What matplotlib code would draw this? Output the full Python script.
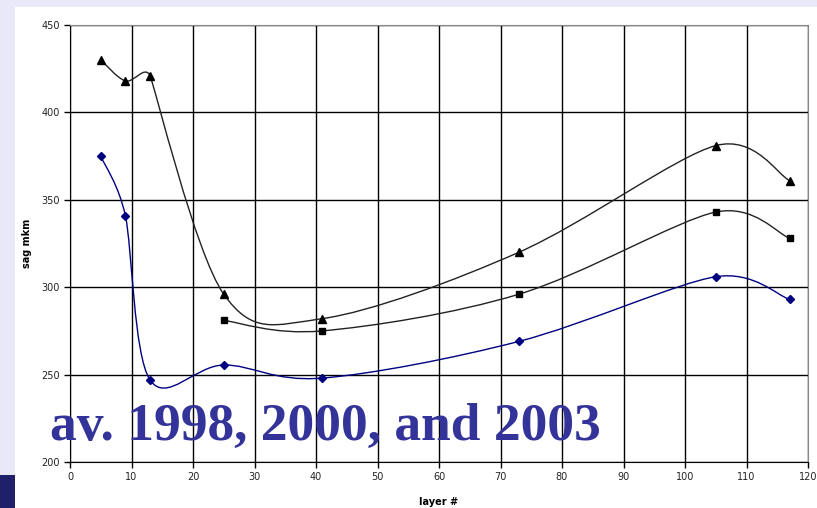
import matplotlib
matplotlib.use("Agg")
import matplotlib.pyplot as plt
from matplotlib.path import Path
from matplotlib.patches import PathPatch, Rectangle
import numpy as np

# data
x_tri = [5, 9, 13, 25, 41, 73, 105, 117]
y_tri = [430, 418, 421, 296, 282, 320, 381, 361]
x_sq = [25, 41, 73, 105, 117]
y_sq = [281, 275, 296, 343, 328]
x_dia = [5, 9, 13, 25, 41, 73, 105, 117]
y_dia = [375, 341, 247, 255.5, 248, 269, 306, 293]
x_ticks = list(range(0, 121, 10))
y_ticks = list(range(200, 451, 50))
overlay_text = "av. 1998, 2000, and 2003"


def smooth_path(ax, xs, ys):
    # Excel-like smoothing: Catmull-Rom Bezier with clamped control arms (display space)
    pts = ax.transData.transform(np.column_stack([xs, ys]).astype(float))
    n = len(pts)

    def arm(pa, pb, pc):
        # control offset at pb, direction (pc - pa)
        d = pc - pa
        L = np.hypot(*d)
        if L == 0:
            return np.zeros(2)
        m = min(np.hypot(*(pb - pa)) if np.hypot(*(pb - pa)) > 0 else np.inf,
                np.hypot(*(pc - pb)) if np.hypot(*(pc - pb)) > 0 else np.inf)
        f = 1.0 / 6.0
        if L * f > m / 2:
            f = (m / 2) / L
        return d * f

    verts = [pts[0]]
    codes = [Path.MOVETO]
    for i in range(n - 1):
        p0 = pts[i - 1] if i > 0 else pts[i]
        p1 = pts[i]
        p2 = pts[i + 1]
        p3 = pts[i + 2] if i + 2 < n else pts[i + 1]
        c1 = p1 + arm(p0, p1, p2)
        c2 = p2 - arm(p1, p2, p3)
        verts += [c1, c2, p2]
        codes += [Path.CURVE4] * 3
    verts = ax.transData.inverted().transform(np.array(verts))
    return Path(verts, codes)


fig = plt.figure(figsize=(8.17, 5.08), dpi=100, facecolor="#e8e8f8")
fig.patches.append(Rectangle((15 / 817, 0), 1, 1 - 7 / 508, transform=fig.transFigure,
                             facecolor="white", edgecolor="none", zorder=-10))
fig.patches.append(Rectangle((0, 0), 15 / 817, 33 / 508, transform=fig.transFigure,
                             facecolor="#20206a", edgecolor="none", zorder=-9))

ax = fig.add_axes([70 / 817, 1 - 462 / 508, 738 / 817, 437 / 508])
ax.set_zorder(5)
ax.set_facecolor("white")
ax.set_xlim(0, 120)
ax.set_ylim(200, 450)
ax.set_xticks(x_ticks)
ax.set_yticks(y_ticks)
ax.grid(True, color="black", linewidth=1.0)
ax.set_axisbelow(True)
for s in ["top", "right"]:
    ax.spines[s].set_color("#888888")
for s in ["left", "bottom"]:
    ax.spines[s].set_color("black")
ax.tick_params(axis="both", labelsize=7, colors="black", labelcolor="#222222",
               length=4, width=1, direction="out")
ax.set_ylabel("sag mkm", fontsize=7, fontweight="bold")
ax.yaxis.set_label_coords(-0.0515, 0.5)
ax.set_xlabel("layer #", fontsize=7, fontweight="bold")
ax.xaxis.set_label_coords(0.5, -0.080)

for xs, ys, color, marker, ms in [
    (x_tri, y_tri, "#222222", "^", 6),
    (x_sq, y_sq, "#222222", "s", 5),
    (x_dia, y_dia, "#000080", "D", 4),
]:
    ax.add_patch(PathPatch(smooth_path(ax, xs, ys), facecolor="none", edgecolor=color,
                           linewidth=1.0, zorder=3))
    mc = "black" if color != "#000080" else "#000080"
    ax.plot(xs, ys, linestyle="none", marker=marker, markersize=ms, color=mc, zorder=4)

fig.text(50 / 817, 1 - 440 / 508, overlay_text, fontsize=38.5, fontweight="bold",
         family="Liberation Serif", color="#333399", ha="left", va="baseline", zorder=10)

fig.savefig("out.png", dpi=100, facecolor=fig.get_facecolor())
